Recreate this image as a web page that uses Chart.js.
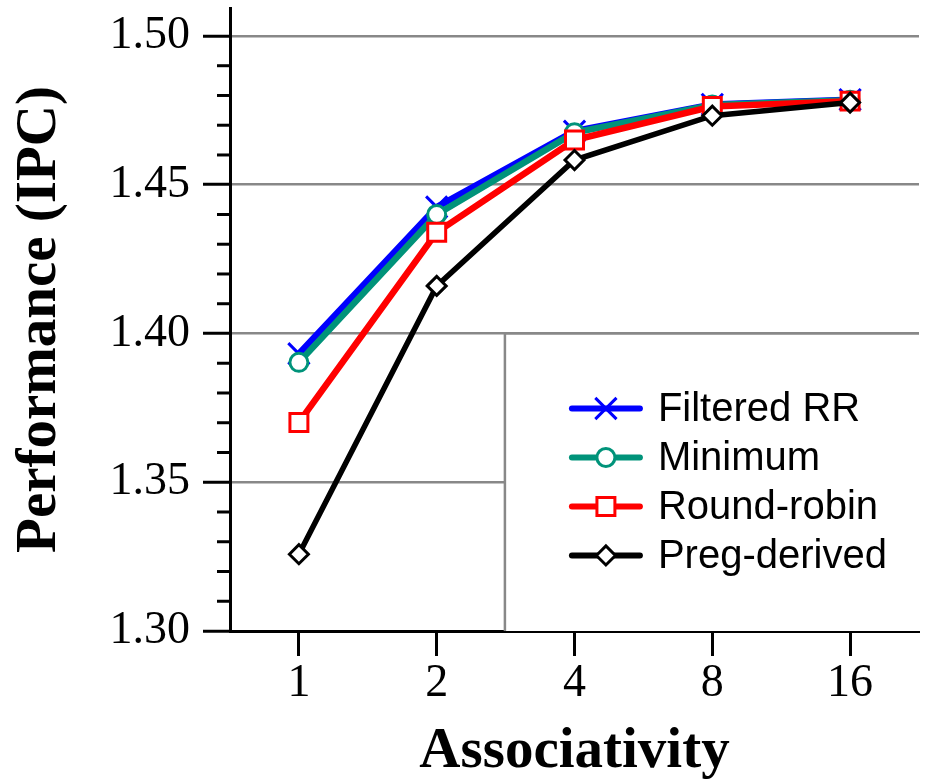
<!DOCTYPE html>
<html>
<head>
<meta charset="utf-8">
<script src="https://cdn.jsdelivr.net/npm/chart.js@4.4.1/dist/chart.umd.min.js"></script>
<style>
  body { margin: 0; background: #fff; }
  #wrap { width: 928px; height: 781px; }
</style>
</head>
<body>
<div id="wrap"><canvas id="perf" width="928" height="781"></canvas></div>
<script>
// data
var associativity = ['1', '2', '4', '8', '16'];
var filteredRR  = [1.3932, 1.4425, 1.4680, 1.4770, 1.4786];
var minimum     = [1.3903, 1.4400, 1.4675, 1.4768, 1.4784];
var roundRobin  = [1.3701, 1.4340, 1.4650, 1.4763, 1.4781];
var pregDerived = [1.3258, 1.4160, 1.4583, 1.4732, 1.4776];
var yMin = 1.30, yMaxTick = 1.50, yMajorStep = 0.05, yMinorStep = 0.01;

var serif = '"Liberation Serif", "Times New Roman", serif';
var sans = '"Liberation Sans", Arial, sans-serif';

// minor ticks on the y axis (every 0.01)
var minorTicks = {
  id: 'minorTicks',
  afterDraw: function(chart) {
    var ctx = chart.ctx, y = chart.scales.y, left = chart.chartArea.left;
    var n = Math.round((yMaxTick - yMin) / yMinorStep);
    ctx.save();
    ctx.strokeStyle = '#000';
    ctx.lineWidth = 3;
    for (var i = 0; i <= n; i++) {
      if (i % 5 === 0) continue;
      var py = y.getPixelForValue(yMin + i * yMinorStep);
      ctx.beginPath();
      ctx.moveTo(left - 13, py);
      ctx.lineTo(left, py);
      ctx.stroke();
    }
    ctx.restore();
  }
};

// legend box sitting in the lower right of the plot
var boxLegend = {
  id: 'boxLegend',
  beforeDatasetsDraw: function(chart) {
    var ctx = chart.ctx, a = chart.chartArea;
    var bx = a.left + 0.399 * (a.right - a.left);
    var by = chart.scales.y.getPixelForValue(1.40);
    ctx.save();
    ctx.fillStyle = '#fff';
    ctx.fillRect(bx, by, a.right - bx + 2, a.bottom - by);
    ctx.strokeStyle = '#888';
    ctx.lineWidth = 2.5;
    ctx.beginPath();
    ctx.moveTo(bx, a.bottom);
    ctx.lineTo(bx, by);
    ctx.lineTo(a.right, by);
    ctx.stroke();
    ctx.restore();
  },
  afterDraw: function(chart) {
    var ctx = chart.ctx, a = chart.chartArea;
    var bx = a.left + 0.399 * (a.right - a.left);
    var by = chart.scales.y.getPixelForValue(1.40);
    ctx.save();
    chart.data.datasets.forEach(function(ds, i) {
      var ry = by + 75 + i * 49;
      ctx.strokeStyle = ds.borderColor;
      ctx.lineWidth = 6;
      ctx.lineCap = 'round';
      ctx.beginPath();
      ctx.moveTo(bx + 67, ry);
      ctx.lineTo(bx + 135, ry);
      ctx.stroke();
      ctx.lineCap = 'butt';
      ctx.fillStyle = ds.pointBackgroundColor;
      ctx.strokeStyle = ds.pointBorderColor;
      ctx.lineWidth = ds.pointBorderWidth;
      Chart.helpers.drawPoint(ctx, {
        pointStyle: ds.pointStyle, radius: ds.pointRadius,
        rotation: 0, borderWidth: ds.pointBorderWidth
      }, bx + 101, ry);
      ctx.fillStyle = '#000';
      ctx.font = '40px ' + sans;
      ctx.textAlign = 'left';
      ctx.textBaseline = 'middle';
      ctx.fillText(ds.label, bx + 153, ry + 1);
    });
    ctx.restore();
  }
};

function series(label, data, color, style, radius, width, order) {
  return {
    label: label, data: data, order: order,
    borderColor: color, borderWidth: width,
    pointStyle: style, pointRadius: radius, pointHoverRadius: radius,
    pointBorderColor: color, pointBackgroundColor: '#fff', pointBorderWidth: 3,
    tension: 0, fill: false
  };
}

new Chart(document.getElementById('perf').getContext('2d'), {
  type: 'line',
  data: {
    labels: associativity,
    datasets: [
      series('Filtered RR', filteredRR, '#0000ff', 'crossRot', 15, 6.5, 4),
      series('Minimum', minimum, '#00937a', 'circle', 9, 6.5, 3),
      series('Round-robin', roundRobin, '#ff0000', 'rect', 12.7, 6.5, 2),
      series('Preg-derived', pregDerived, '#000000', 'rectRot', 9.5, 5.5, 1)
    ]
  },
  options: {
    responsive: false,
    animation: false,
    layout: { autoPadding: false, padding: { top: 8, right: 9, left: 0, bottom: 0 } },
    plugins: { legend: { display: false }, tooltip: { enabled: false } },
    scales: {
      x: {
        type: 'category',
        offset: true,
        afterFit: function(s) { s.height = 150; s.paddingLeft = 0; s.paddingRight = 0; },
        grid: { drawOnChartArea: false, tickLength: 25, tickColor: '#000', tickWidth: 3 },
        border: { display: true, color: '#000', width: 3 },
        ticks: { color: '#000', font: { family: serif, size: 46 }, padding: 0,
                 autoSkip: false, maxRotation: 0 },
        title: { display: true, text: 'Associativity', color: '#000',
                 font: { family: serif, size: 57, weight: 'bold', lineHeight: 1 },
                 padding: { top: 0, bottom: 0 } }
      },
      y: {
        min: yMin,
        max: 1.5094,
        afterFit: function(s) { s.width = 230; s.paddingTop = 0; s.paddingBottom = 0; },
        grid: {
          color: function(c) { return (c.tick && Math.abs(c.tick.value - yMin) < 1e-6) ? 'rgba(0,0,0,0)' : '#888'; },
          lineWidth: 2.5, tickLength: 27, tickColor: '#000', tickWidth: 3
        },
        border: { display: true, color: '#000', width: 3 },
        ticks: {
          stepSize: yMajorStep, includeBounds: false, color: '#000', padding: 13,
          font: { family: serif, size: 46 },
          callback: function(v) { return Number(v).toFixed(2); }
        },
        title: { display: true, text: 'Performance (IPC)', color: '#000',
                 font: { family: serif, size: 57, weight: 'bold', lineHeight: 1 },
                 padding: { top: 12, bottom: 0 } }
      }
    }
  },
  plugins: [minorTicks, boxLegend]
});
</script>
</body>
</html>
